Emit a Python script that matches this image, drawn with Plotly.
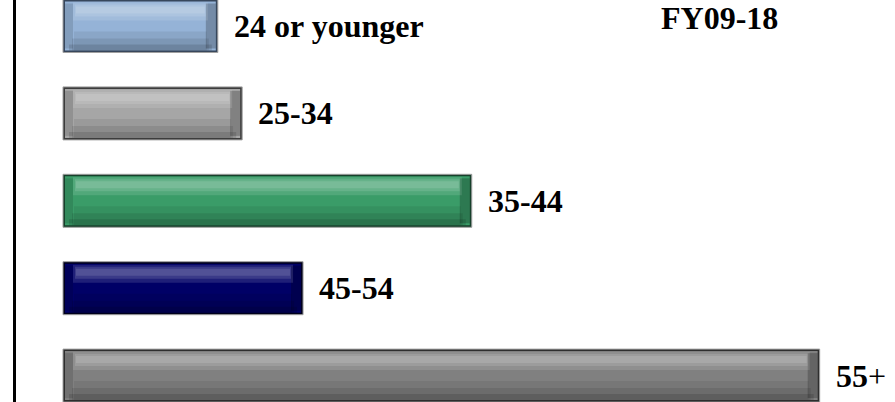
import plotly.graph_objects as go

# ---- data ----
categories = ["24 or younger", "25-34", "35-44", "45-54", "55+"]
values = [8.9, 10.3, 23.5, 13.8, 43.5]          # share of total, %
labels = ["<b>24 or younger</b>", "<b>25-34</b>", "<b>35-44</b>", "<b>45-54</b>", "<b>55</b>+"]
title_text = "<b>FY09-18</b>"

# ---- styles ----
main_colors = ["#95b3d7", "#a6a6a6", "#3a9c68", "#000066", "#808080"]
edge_colors = ["#37475c", "#3c3c3c", "#17402b", "#00001c", "#2e2e2e"]
FONT = "Liberation Serif, Times New Roman, serif"

W, H = 895, 402
ML = 16
px_x = 1 / 17.395     # data units per pixel (x)
px_y = 1 / 87.4       # category units per pixel (y)
bar_h = 53 * px_y

fig = go.Figure()

def layer(inset_l, inset_r, top, height, color, line=None):
    """Overlay a bar layer, insets/top/height given in pixels."""
    fig.add_trace(go.Bar(
        y=categories,
        x=[v - (inset_l + inset_r) * px_x for v in values],
        base=inset_l * px_x,
        orientation="h",
        width=height * px_y,
        offset=-bar_h / 2 + top * px_y,
        marker=dict(color=color, line=line or dict(width=0)),
        hoverinfo="skip",
        showlegend=False,
    ))

def end_layer(at_right, w, inset, color):
    fig.add_trace(go.Bar(
        y=categories, x=[w * px_x] * len(values),
        base=[(v - (inset + w) * px_x) if at_right else inset * px_x for v in values],
        orientation="h",
        width=45 * px_y, offset=-bar_h / 2 + 4 * px_y,
        marker=dict(color=color, line=dict(width=0)),
        hoverinfo="skip", showlegend=False))

# outer dark rim with light outline
layer(0, 0, 0, 53, edge_colors, dict(color="#a0a0a0", width=1))
# main body
layer(2, 2, 2, 49, main_colors)
# bottom shading (graded)
layer(11, 11, 32, 19, "rgba(0,0,0,0.07)")
layer(9, 9, 39, 12, "rgba(0,0,0,0.09)")
layer(6, 6, 45, 6, "rgba(0,0,0,0.12)")
# end bevels
end_layer(True, 10, 2, "rgba(0,0,0,0.22)")
end_layer(False, 8, 2, "rgba(0,0,0,0.12)")
# top highlight (graded)
layer(10, 10, 3, 18, "rgba(255,255,255,0.12)")
layer(12, 12, 5, 12, "rgba(255,255,255,0.12)")
layer(13, 13, 7, 7, "rgba(255,255,255,0.12)")

# labels at bar ends
for c, v, t in zip(categories, values, labels):
    fig.add_annotation(x=v, y=c, text=t, xanchor="left", yanchor="middle",
                       xshift=14, showarrow=False,
                       font=dict(family=FONT, size=32, color="black"))

fig.add_annotation(x=(719 - ML) / (W - ML), y=1 - 18 / H, xref="paper", yref="paper",
                   text=title_text, showarrow=False, xanchor="center", yanchor="middle",
                   font=dict(family=FONT, size=32, color="black"))

fig.update_layout(
    width=W, height=H,
    margin=dict(l=ML, r=0, t=0, b=0),
    barmode="overlay",
    plot_bgcolor="white", paper_bgcolor="white",
    showlegend=False,
    xaxis=dict(range=[(ML - 63) * px_x, (W - 63) * px_x], visible=False, fixedrange=True),
    yaxis=dict(type="category", categoryorder="array", categoryarray=categories,
               range=[(H - 26) * px_y, -26 * px_y],
               showline=True, linecolor="black", linewidth=3,
               showticklabels=False, ticks="", showgrid=False, zeroline=False,
               fixedrange=True),
    hovermode=False,
)

fig.write_html("out.html", config={"displayModeBar": False},
               post_script="document.body.style.margin='0';document.body.style.overflow='hidden';")
